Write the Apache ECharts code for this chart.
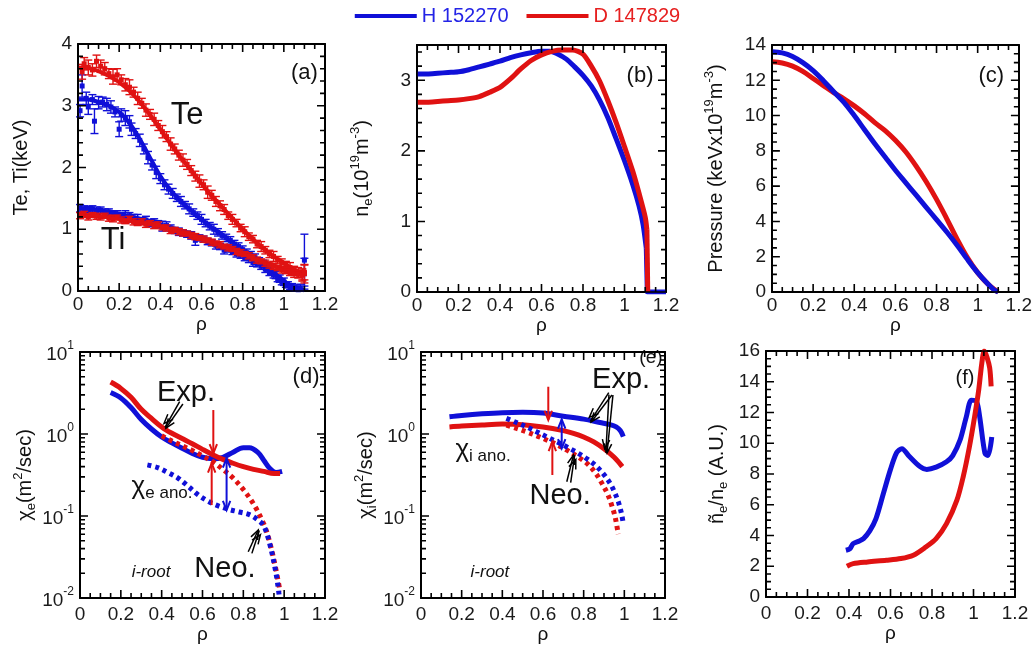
<!DOCTYPE html>
<html>
<head>
<meta charset="utf-8">
<title>H vs D profiles</title>
<script src="https://cdn.jsdelivr.net/npm/echarts@6.0.0/dist/echarts.min.js"></script>
<style>
  html, body { margin: 0; padding: 0; background: #fff; }
  #chart { width: 1035px; height: 646px; }
</style>
</head>
<body>
<div id="chart"></div>
<script>
// ===== series names =====
const NAME_H = 'H 152270';
const NAME_D = 'D 147829';

// ===== (a) temperature profiles: fits [rho, keV], measurements [rho, keV, error] =====
const teFitH = [[0,3.1],[0.05,3.1],[0.1,3.06],[0.15,3.0],[0.2,2.9],[0.25,2.72],[0.3,2.46],[0.35,2.16],[0.4,1.86],[0.45,1.63],[0.5,1.45],[0.55,1.3],[0.6,1.16],[0.65,1.03],[0.7,0.91],[0.75,0.79],[0.8,0.67],[0.85,0.55],[0.9,0.43],[0.95,0.3],[1.0,0.16],[1.05,0.06],[1.1,0.02]];
const teFitD = [[0,3.62],[0.05,3.61],[0.1,3.56],[0.15,3.48],[0.2,3.38],[0.25,3.24],[0.3,3.06],[0.35,2.85],[0.4,2.62],[0.45,2.38],[0.5,2.16],[0.55,1.95],[0.6,1.74],[0.65,1.54],[0.7,1.36],[0.75,1.18],[0.8,1.0],[0.85,0.84],[0.9,0.69],[0.95,0.56],[1.0,0.45],[1.05,0.35],[1.1,0.27]];
const tiFitH = [[0,1.34],[0.1,1.31],[0.2,1.25],[0.3,1.17],[0.4,1.08],[0.5,0.98],[0.6,0.87],[0.7,0.74],[0.8,0.6],[0.9,0.42],[0.95,0.3],[1.0,0.16],[1.05,0.06],[1.1,0.01]];
const tiFitD = [[0,1.23],[0.1,1.21],[0.2,1.17],[0.3,1.11],[0.4,1.05],[0.5,0.96],[0.6,0.86],[0.7,0.74],[0.8,0.62],[0.9,0.48],[1.0,0.36],[1.05,0.3],[1.1,0.26]];

const teMeasH = [[0.01,2.92,0.1],[0.02,3.32,0.18],[0.04,3.12,0.1],[0.05,2.98,0.12],[0.07,3.1,0.08],[0.08,2.75,0.2],[0.1,3.05,0.1],[0.12,3.06,0.08],[0.14,3.02,0.1],[0.16,2.98,0.1],[0.18,2.9,0.08],[0.2,2.62,0.12],[0.21,2.85,0.1],[0.23,2.8,0.12],[0.25,2.74,0.1],[0.26,2.62,0.1],[0.28,2.55,0.08],[0.3,2.44,0.1],[0.32,2.3,0.08],[0.34,2.16,0.1],[0.36,2.04,0.08],[0.38,1.92,0.1],[0.4,1.82,0.08],[0.42,1.72,0.08],[0.44,1.65,0.08],[0.46,1.58,0.08],[0.48,1.51,0.06],[0.5,1.45,0.08],[0.52,1.39,0.06],[0.54,1.33,0.08],[0.56,1.27,0.06],[0.58,1.22,0.06],[0.6,1.16,0.08],[0.62,1.1,0.06],[0.64,1.05,0.06],[0.66,1.0,0.08],[0.68,0.95,0.06],[0.7,0.9,0.06],[0.72,0.86,0.06],[0.74,0.82,0.06],[0.76,0.76,0.06],[0.78,0.72,0.06],[0.8,0.67,0.06],[0.82,0.62,0.06],[0.84,0.58,0.06],[0.86,0.54,0.06],[0.88,0.48,0.06],[0.9,0.44,0.06],[0.92,0.38,0.06],[0.94,0.32,0.06],[0.96,0.26,0.06],[0.98,0.2,0.06],[1.0,0.15,0.06],[1.02,0.1,0.05],[1.04,0.07,0.05],[1.06,0.05,0.05],[1.08,0.05,0.06],[1.1,0.5,0.42],[1.1,0.28,0.25]];
const teMeasD = [[0.02,3.55,0.12],[0.03,3.68,0.1],[0.05,3.62,0.12],[0.07,3.58,0.1],[0.09,3.72,0.1],[0.11,3.64,0.1],[0.13,3.6,0.1],[0.15,3.52,0.08],[0.17,3.47,0.12],[0.19,3.5,0.1],[0.21,3.42,0.08],[0.23,3.34,0.1],[0.25,3.3,0.12],[0.27,3.22,0.08],[0.29,3.12,0.1],[0.31,3.04,0.08],[0.33,2.93,0.1],[0.35,2.86,0.08],[0.37,2.78,0.1],[0.39,2.68,0.08],[0.41,2.58,0.1],[0.43,2.5,0.08],[0.45,2.38,0.1],[0.47,2.3,0.08],[0.49,2.2,0.08],[0.51,2.12,0.1],[0.53,2.05,0.08],[0.55,1.95,0.08],[0.57,1.86,0.08],[0.59,1.78,0.1],[0.61,1.72,0.08],[0.63,1.6,0.1],[0.65,1.55,0.08],[0.67,1.45,0.08],[0.69,1.38,0.08],[0.71,1.32,0.08],[0.73,1.22,0.06],[0.75,1.16,0.08],[0.77,1.1,0.06],[0.79,1.02,0.06],[0.81,0.96,0.08],[0.83,0.88,0.06],[0.85,0.84,0.06],[0.87,0.76,0.06],[0.89,0.72,0.08],[0.91,0.66,0.06],[0.93,0.6,0.06],[0.95,0.56,0.08],[0.97,0.5,0.06],[0.99,0.46,0.06],[1.01,0.42,0.06],[1.03,0.38,0.08],[1.05,0.34,0.06],[1.07,0.3,0.08],[1.09,0.26,0.1],[1.1,0.28,0.15]];
const tiMeasH = [[0.01,1.34,0.06],[0.03,1.33,0.05],[0.05,1.32,0.05],[0.07,1.33,0.05],[0.09,1.3,0.06],[0.11,1.31,0.05],[0.13,1.27,0.06],[0.15,1.28,0.05],[0.17,1.25,0.05],[0.19,1.24,0.06],[0.21,1.22,0.05],[0.23,1.2,0.1],[0.25,1.22,0.05],[0.27,1.18,0.06],[0.29,1.16,0.08],[0.31,1.14,0.05],[0.33,1.15,0.06],[0.35,1.1,0.06],[0.37,1.12,0.05],[0.39,1.08,0.06],[0.41,1.05,0.08],[0.43,1.06,0.06],[0.45,1.02,0.05],[0.47,0.98,0.05],[0.49,0.96,0.06],[0.51,0.94,0.05],[0.53,0.92,0.05],[0.55,0.9,0.06],[0.57,0.82,0.08],[0.59,0.86,0.05],[0.61,0.84,0.05],[0.63,0.8,0.05],[0.65,0.78,0.05],[0.67,0.74,0.06],[0.69,0.72,0.05],[0.71,0.66,0.06],[0.73,0.68,0.05],[0.75,0.64,0.05],[0.77,0.6,0.05],[0.79,0.58,0.05],[0.81,0.54,0.05],[0.83,0.52,0.06],[0.85,0.46,0.06],[0.87,0.44,0.05],[0.89,0.4,0.05],[0.91,0.36,0.06],[0.93,0.3,0.05],[0.95,0.26,0.05],[0.97,0.2,0.05],[0.99,0.15,0.05],[1.01,0.1,0.04],[1.03,0.06,0.04],[1.05,0.04,0.04],[1.07,0.02,0.03]];
const tiMeasD = [[0.01,1.22,0.05],[0.03,1.24,0.05],[0.05,1.2,0.05],[0.07,1.23,0.04],[0.09,1.21,0.05],[0.11,1.2,0.05],[0.13,1.22,0.04],[0.15,1.18,0.05],[0.17,1.17,0.05],[0.19,1.19,0.04],[0.21,1.15,0.05],[0.23,1.13,0.04],[0.25,1.16,0.05],[0.27,1.12,0.05],[0.29,1.1,0.04],[0.31,1.12,0.05],[0.33,1.08,0.05],[0.35,1.1,0.04],[0.37,1.06,0.05],[0.39,1.07,0.05],[0.41,1.03,0.04],[0.43,1.02,0.05],[0.45,0.98,0.05],[0.47,0.99,0.04],[0.49,0.96,0.05],[0.51,0.94,0.05],[0.53,0.93,0.04],[0.55,0.9,0.05],[0.57,0.88,0.05],[0.59,0.86,0.04],[0.61,0.84,0.05],[0.63,0.82,0.04],[0.65,0.79,0.05],[0.67,0.77,0.04],[0.69,0.75,0.05],[0.71,0.72,0.04],[0.73,0.7,0.05],[0.75,0.68,0.04],[0.77,0.64,0.05],[0.79,0.62,0.05],[0.81,0.6,0.04],[0.83,0.57,0.05],[0.85,0.54,0.05],[0.87,0.5,0.05],[0.89,0.48,0.04],[0.91,0.45,0.05],[0.93,0.42,0.05],[0.95,0.4,0.05],[0.97,0.37,0.04],[0.99,0.34,0.05],[1.01,0.33,0.05],[1.03,0.3,0.05],[1.05,0.28,0.06],[1.07,0.27,0.06],[1.09,0.26,0.08],[1.1,0.3,0.12]];

// ===== (b) electron density [rho, 1e19 m^-3]; profile and edge drop =====
const neH = [[0,3.09],[0.05,3.09],[0.1,3.1],[0.15,3.11],[0.2,3.12],[0.25,3.15],[0.3,3.19],[0.35,3.23],[0.4,3.27],[0.45,3.32],[0.5,3.36],[0.55,3.39],[0.6,3.41],[0.64,3.41],[0.68,3.37],[0.72,3.3],[0.76,3.19],[0.8,3.07],[0.84,2.92],[0.88,2.72],[0.92,2.47],[0.96,2.17],[1.0,1.86],[1.04,1.52],[1.07,1.22],[1.09,0.95],[1.105,0.62]];
const neEdgeH = [[1.105,0.62],[1.11,0],[1.2,0]];
const neD = [[0,2.69],[0.05,2.69],[0.1,2.7],[0.15,2.71],[0.2,2.72],[0.25,2.74],[0.3,2.77],[0.35,2.83],[0.4,2.9],[0.45,3.02],[0.5,3.16],[0.55,3.28],[0.6,3.36],[0.65,3.41],[0.7,3.43],[0.75,3.43],[0.8,3.37],[0.84,3.2],[0.88,2.99],[0.92,2.71],[0.96,2.4],[1.0,2.06],[1.04,1.71],[1.07,1.4],[1.1,1.06],[1.108,0.88]];
const neEdgeD = [[1.108,0.88],[1.112,0]];

// ===== (c) pressure [rho, keV x 1e19 m^-3] =====
const presH = [[0,13.62],[0.05,13.55],[0.1,13.35],[0.15,13.0],[0.2,12.55],[0.25,11.98],[0.3,11.35],[0.35,10.75],[0.4,10.0],[0.45,9.2],[0.5,8.4],[0.55,7.65],[0.6,6.9],[0.65,6.2],[0.7,5.5],[0.75,4.8],[0.8,4.1],[0.85,3.4],[0.9,2.65],[0.95,1.85],[1.0,1.1],[1.05,0.45],[1.08,0.12],[1.1,0]];
const presD = [[0,13.05],[0.05,12.98],[0.1,12.8],[0.15,12.5],[0.2,12.1],[0.25,11.7],[0.3,11.3],[0.35,10.95],[0.4,10.55],[0.45,10.1],[0.5,9.6],[0.55,9.15],[0.6,8.6],[0.65,7.95],[0.7,7.15],[0.75,6.25],[0.8,5.25],[0.85,4.15],[0.9,3.0],[0.95,1.95],[1.0,1.1],[1.05,0.45],[1.08,0.15],[1.1,0]];

// ===== (d) electron diffusivity [rho, m^2/s] =====
const chiEExpH = [[0.15,3.2],[0.2,2.75],[0.25,2.1],[0.3,1.5],[0.35,1.15],[0.4,0.92],[0.45,0.78],[0.5,0.67],[0.55,0.58],[0.6,0.52],[0.65,0.5],[0.7,0.52],[0.75,0.6],[0.8,0.68],[0.83,0.68],[0.87,0.6],[0.9,0.48],[0.93,0.38],[0.96,0.34],[0.99,0.35]];
const chiEExpD = [[0.15,4.3],[0.2,3.6],[0.25,2.8],[0.3,2.0],[0.35,1.55],[0.4,1.22],[0.45,1.02],[0.5,0.88],[0.55,0.76],[0.6,0.65],[0.65,0.56],[0.7,0.49],[0.75,0.44],[0.8,0.4],[0.85,0.37],[0.9,0.35],[0.95,0.33],[0.98,0.33]];
const chiENeoH = [[0.33,0.42],[0.38,0.39],[0.43,0.34],[0.48,0.29],[0.53,0.23],[0.58,0.18],[0.63,0.15],[0.68,0.132],[0.73,0.12],[0.78,0.112],[0.83,0.104],[0.87,0.09],[0.9,0.076],[0.93,0.045],[0.96,0.02],[0.975,0.011]];
const chiENeoD = [[0.4,0.95],[0.45,0.82],[0.5,0.72],[0.55,0.63],[0.6,0.54],[0.65,0.46],[0.7,0.37],[0.75,0.29],[0.8,0.21],[0.85,0.14],[0.9,0.08],[0.93,0.047],[0.96,0.022],[0.98,0.012]];

// ===== (e) ion diffusivity [rho, m^2/s] =====
const chiIExpH = [[0.14,1.62],[0.2,1.68],[0.3,1.76],[0.4,1.82],[0.5,1.84],[0.6,1.8],[0.7,1.65],[0.8,1.52],[0.88,1.38],[0.93,1.3],[0.96,1.22],[0.98,1.1],[0.995,0.93]];
const chiIExpD = [[0.14,1.22],[0.2,1.25],[0.3,1.29],[0.4,1.32],[0.5,1.3],[0.6,1.22],[0.7,1.1],[0.75,1.02],[0.8,0.92],[0.85,0.8],[0.9,0.66],[0.95,0.52],[0.99,0.4]];
const chiINeoH = [[0.42,1.55],[0.47,1.38],[0.52,1.22],[0.57,1.06],[0.62,0.92],[0.67,0.8],[0.72,0.69],[0.77,0.59],[0.82,0.49],[0.86,0.41],[0.9,0.32],[0.93,0.25],[0.95,0.2],[0.97,0.15],[0.985,0.11],[0.995,0.08]];
const chiINeoD = [[0.42,1.28],[0.47,1.17],[0.52,1.06],[0.57,0.95],[0.62,0.84],[0.67,0.74],[0.72,0.63],[0.77,0.53],[0.82,0.43],[0.86,0.33],[0.89,0.25],[0.92,0.18],[0.94,0.13],[0.955,0.097],[0.97,0.06]];

// ===== (f) density fluctuation level [rho, A.U.] =====
const dnH = [[0.385,3.04],[0.405,3.15],[0.42,3.47],[0.45,3.65],[0.47,3.8],[0.5,4.3],[0.53,5.1],[0.565,6.7],[0.6,8.3],[0.63,9.4],[0.655,9.65],[0.69,9.15],[0.74,8.5],[0.775,8.3],[0.82,8.45],[0.87,8.8],[0.9,9.2],[0.935,10.2],[0.965,11.7],[0.99,12.8],[1.015,12.7],[1.03,11.7],[1.055,9.35],[1.07,9.2],[1.088,10.4]];
const dnD = [[0.39,2.0],[0.42,2.17],[0.49,2.28],[0.58,2.39],[0.65,2.5],[0.71,2.72],[0.77,3.25],[0.82,3.8],[0.87,4.77],[0.92,6.3],[0.95,7.8],[0.98,9.75],[1.005,11.7],[1.025,13.45],[1.04,15.2],[1.052,16.0],[1.065,15.6],[1.078,14.9],[1.085,13.7]];

// ===== annotation arrows [x1, y1, x2(tip), y2(tip)] in data units =====
const arrowsRedD   = [[0.653,1.96,0.653,0.58],[0.645,0.136,0.645,0.44]];
const arrowsBlueD  = [[0.718,0.505,0.718,0.118]];
const arrowsBlackD = [[0.504,2.32,0.421,1.18],[0.824,0.0367,0.873,0.0675]];
const arrowsRedE   = [[0.626,3.77,0.626,1.48],[0.646,0.316,0.646,0.805]];
const arrowsBlueE  = [[0.692,1.51,0.692,0.668]];
const arrowsBlackE = [[0.939,2.99,0.837,1.40],[0.944,2.99,0.915,0.586],[0.717,0.262,0.75,0.555]];

// ===== axis ranges and tick spacing =====
const RHO_RANGE = [0, 1.2];
const RHO_TICKS = { major: 0.2, minor: 0.05 };
const LOG_TICKS = [0.01,0.02,0.03,0.04,0.05,0.06,0.07,0.08,0.09,0.1,0.2,0.3,0.4,0.5,0.6,0.7,0.8,0.9,1,2,3,4,5,6,7,8,9,10];
const LOG_DECADES = [0.01, 0.1, 1, 10];

// ===== drawing =====
const BLUE = '#1010d8';
const RED = '#e01212';
const INK = '#111';
const FONT = '"Liberation Sans", Arial, sans-serif';

const gridRects = [
  { left: 78,  top: 44,  width: 247, height: 247 },
  { left: 417, top: 45,  width: 249, height: 247 },
  { left: 772, top: 45,  width: 250, height: 247 },
  { left: 80,  top: 352, width: 245, height: 246 },
  { left: 421, top: 352, width: 244, height: 246 },
  { left: 766, top: 351, width: 249, height: 246 }
];
const grids = gridRects.map(g => Object.assign({ containLabel: false }, g));

const nameRich = {
  n: { fontSize: 20, fontFamily: FONT, color: INK, lineHeight: 26, verticalAlign: 'middle' },
  s: { fontSize: 13, fontFamily: FONT, color: INK, lineHeight: 13, verticalAlign: 'bottom' },
  p: { fontSize: 13, fontFamily: FONT, color: INK, lineHeight: 13, verticalAlign: 'top' }
};

const panels = [
  { y: { min: 0, max: 4, interval: 1, minor: 0.2 }, name: '{n|Te, Ti(keV)}', gap: 44, xGap: 20, xMargin: 4 },
  { y: { min: 0, max: 3.5, interval: 1, minor: 0.2, hideMax: true }, name: '{n|n}{s|e}{n|(10}{p|19}{n|m}{p|-3}{n|)}', gap: 42, xGap: 20, xMargin: 4 },
  { y: { min: 0, max: 14, interval: 2, minor: 0.5 }, name: '{n|Pressure (keVx10}{p|19}{n|m}{p|-3}{n|)}', gap: 43, xGap: 20, xMargin: 4 },
  { y: { type: 'log', min: 0.01, max: 10 }, name: '{n|χ}{s|e}{n|(m}{p|2}{n|/sec)}', gap: 32, xGap: 22, xMargin: 7 },
  { y: { type: 'log', min: 0.01, max: 10 }, name: '{n|χ}{s|i}{n|(m}{p|2}{n|/sec)}', gap: 33, xGap: 22, xMargin: 7 },
  { y: { min: 0, max: 16, interval: 2, minor: 0.5 }, name: '{n|ñ}{s|e}{n|/n}{s|e}{n| (A.U.)}', gap: 36, xGap: 22, xMargin: 7 }
];

function axisBase(gi, pos, o, showLabel, margin) {
  const ax = {
    type: o.type || 'value', gridIndex: gi, position: pos,
    min: o.min, max: o.max,
    axisLine: { show: true, onZero: false, lineStyle: { color: '#000', width: 2 } },
    axisTick: { show: false },
    splitLine: { show: false },
    axisLabel: { show: showLabel, color: '#1a1a1a', fontFamily: FONT, fontSize: 19, margin: margin }
  };
  if (ax.type === 'log') {
    ax.logBase = 10;
    ax.axisLabel.formatter = v => '{b|10}{e|' + Math.round(Math.log10(v)) + '}';
    ax.axisLabel.rich = {
      b: { fontSize: 19, fontFamily: FONT, color: '#1a1a1a', lineHeight: 24, verticalAlign: 'bottom' },
      e: { fontSize: 12, fontFamily: FONT, color: '#1a1a1a', lineHeight: 14, verticalAlign: 'top' }
    };
  } else {
    ax.interval = o.interval;
    if (o.hideMax) ax.axisLabel.showMaxLabel = false;
  }
  return ax;
}

const xAxes = [], yAxes = [];
panels.forEach((p, gi) => {
  const xo = { min: RHO_RANGE[0], max: RHO_RANGE[1], interval: RHO_TICKS.major };
  const xb = axisBase(gi, 'bottom', xo, true, p.xMargin);
  xb.name = 'ρ'; xb.nameLocation = 'middle'; xb.nameGap = p.xGap;
  xb.nameTextStyle = { fontSize: 19, fontFamily: FONT, color: INK, verticalAlign: 'top' };
  xAxes.push(xb, axisBase(gi, 'top', xo, false, 4));
  const yl = axisBase(gi, 'left', p.y, true, 6);
  yl.name = p.name; yl.nameLocation = 'middle'; yl.nameGap = p.gap; yl.nameRotate = 90;
  yl.nameTextStyle = { rich: nameRich, fontSize: 20, fontFamily: FONT, color: INK };
  yAxes.push(yl, axisBase(gi, 'right', p.y, false, 6));
});

const series = [];
function on(gi) { return { xAxisIndex: 2 * gi, yAxisIndex: 2 * gi }; }

// ----- inward tick marks: one comb path running around each panel frame -----
function ladder(lo, hi, step) {
  const out = [];
  const n = Math.round((hi - lo) / step);
  for (let i = 0; i <= n; i++) out.push(+(lo + i * step).toFixed(6));
  return out;
}
function isOneOf(v, list) { return list.some(e => Math.abs(e - v) < 1e-6); }

function frameComb(gi) {
  const g = gridRects[gi], yo = panels[gi].y, isLog = yo.type === 'log';
  const x0 = RHO_RANGE[0], x1 = RHO_RANGE[1];
  // tick lengths in pixels converted to data units of this panel
  const dx = L => L / g.width * (x1 - x0);
  const logSpan = isLog ? Math.log10(yo.max / yo.min) : 0;
  const up = (y, L) => isLog ? y * Math.pow(10, L / g.height * logSpan) : y + L / g.height * (yo.max - yo.min);
  const down = (y, L) => isLog ? y / Math.pow(10, L / g.height * logSpan) : y - L / g.height * (yo.max - yo.min);

  const xMaj = ladder(x0, x1, RHO_TICKS.major);
  const xs = ladder(x0, x1, RHO_TICKS.minor).map(v => [v, isOneOf(v, xMaj) ? 8 : 5]);
  let ys;
  if (isLog) {
    ys = LOG_TICKS.map(v => [v, isOneOf(v, LOG_DECADES) ? 8 : 5]);
  } else {
    const yMaj = ladder(yo.min, Math.floor(yo.max / yo.interval + 1e-6) * yo.interval, yo.interval);
    ys = ladder(yo.min, Math.floor(yo.max / yo.minor + 1e-6) * yo.minor, yo.minor).map(v => [v, isOneOf(v, yMaj) ? 8 : 5]);
    if (ys[ys.length - 1][0] < yo.max) ys.push([yo.max, 0]);
  }
  const pts = [];
  xs.forEach(([v, L]) => pts.push([v, yo.min], [v, up(yo.min, L)], [v, yo.min]));            // bottom
  ys.forEach(([v, L]) => pts.push([x1, v], [x1 - dx(L), v], [x1, v]));                       // right
  xs.slice().reverse().forEach(([v, L]) => pts.push([v, yo.max], [v, down(yo.max, L)], [v, yo.max])); // top
  ys.slice().reverse().forEach(([v, L]) => pts.push([x0, v], [x0 + dx(L), v], [x0, v]));     // left
  return pts;
}
panels.forEach((p, gi) => {
  series.push(Object.assign({
    type: 'line', name: 'frame ticks', data: frameComb(gi), symbol: 'none', showSymbol: false,
    smooth: false, clip: false, z: 9, silent: true,
    lineStyle: { color: '#000', width: 1.6, join: 'bevel', cap: 'butt' },
    itemStyle: { color: '#000' }
  }, on(gi)));
});

function addLine(gi, name, color, data, opt) {
  opt = opt || {};
  series.push(Object.assign({
    type: 'line', name: name, data: data, symbol: 'none', showSymbol: false,
    smooth: opt.smooth === undefined ? 0.35 : opt.smooth,
    clip: true, z: opt.z || 3, silent: true,
    lineStyle: { color: color, width: opt.width || 5, type: opt.dotted ? [4, 4] : 'solid', cap: 'butt', join: 'round' },
    itemStyle: { color: color }
  }, on(gi)));
}

function addMeas(gi, name, color, data) {
  series.push(Object.assign({
    type: 'custom', name: name, data: data, z: 4, silent: true,
    coordinateSystem: 'cartesian2d', encode: { x: 0, y: 1 },
    itemStyle: { color: color },
    renderItem: function (params, api) {
      const x = api.value(0), y = api.value(1), e = api.value(2);
      const p = api.coord([x, y]);
      const hi = api.coord([x, y + e]);
      const lo = api.coord([x, Math.max(y - e, 0)]);
      const w = 4, ls = { stroke: color, lineWidth: 1.4 };
      return { type: 'group', children: [
        { type: 'line', shape: { x1: p[0], y1: hi[1], x2: p[0], y2: lo[1] }, style: ls },
        { type: 'line', shape: { x1: p[0] - w, y1: hi[1], x2: p[0] + w, y2: hi[1] }, style: ls },
        { type: 'line', shape: { x1: p[0] - w, y1: lo[1], x2: p[0] + w, y2: lo[1] }, style: ls },
        { type: 'rect', shape: { x: p[0] - 2.5, y: p[1] - 2.5, width: 5, height: 5 }, style: { fill: color } }
      ] };
    }
  }, on(gi)));
}

function headAt(tip, from, color, lw) {
  const ang = Math.atan2(tip[1] - from[1], tip[0] - from[0]);
  const L = 10, sp = 0.38;
  return { type: 'polyline', shape: { points: [
    [tip[0] - L * Math.cos(ang - sp), tip[1] - L * Math.sin(ang - sp)], tip,
    [tip[0] - L * Math.cos(ang + sp), tip[1] - L * Math.sin(ang + sp)] ] },
    style: { stroke: color, lineWidth: lw, fill: 'none' } };
}

function addArrows(gi, data, color, kind) {
  series.push(Object.assign({
    type: 'custom', name: 'arrows', data: data, z: 6, silent: true,
    coordinateSystem: 'cartesian2d', encode: { x: [0, 2], y: [1, 3] },
    renderItem: function (params, api) {
      const a = api.coord([api.value(0), api.value(1)]);
      const b = api.coord([api.value(2), api.value(3)]);
      const lw = kind === 'black' ? 1.5 : 2;
      const kids = [{ type: 'line', shape: { x1: a[0], y1: a[1], x2: b[0], y2: b[1] }, style: { stroke: color, lineWidth: lw } },
        headAt(b, a, color, lw)];
      if (kind === 'double') kids.push(headAt(a, b, color, lw));
      if (kind === 'black') {
        // second shaft alongside the first
        const ang = Math.atan2(b[1] - a[1], b[0] - a[0]);
        const ox = -Math.sin(ang) * 4, oy = Math.cos(ang) * 4;
        kids.push({ type: 'line', shape: { x1: a[0] + ox, y1: a[1] + oy, x2: b[0] + ox * 0.3, y2: b[1] + oy * 0.3 }, style: { stroke: color, lineWidth: lw } });
        kids.push(headAt([b[0] + ox * 0.6, b[1] + oy * 0.6 - 4 * Math.sin(ang)], a, color, lw));
      }
      return { type: 'group', children: kids };
    }
  }, on(gi)));
}

function addNotes(gi, notes) {
  series.push(Object.assign({
    type: 'custom', name: 'notes', data: notes.map(n => [n.at[0], n.at[1]]), z: 7, silent: true,
    coordinateSystem: 'cartesian2d', encode: { x: 0, y: 1 },
    renderItem: function (params, api) {
      const n = notes[params.dataIndex];
      const p = api.coord([api.value(0), api.value(1)]);
      return { type: 'text', x: p[0], y: p[1], style: Object.assign({
        text: n.text, fill: n.color || INK, fontFamily: FONT, fontSize: n.size,
        fontStyle: n.italic ? 'italic' : 'normal', align: 'center', verticalAlign: 'middle'
      }, n.rich ? { rich: n.rich } : {}) };
    }
  }, on(gi)));
}

const chiRich = {
  c: { fontSize: 26, fontFamily: FONT, color: '#222', lineHeight: 30, verticalAlign: 'middle' },
  s: { fontSize: 17, fontFamily: FONT, color: '#222', lineHeight: 17, verticalAlign: 'bottom' }
};

// (a)
addLine(0, NAME_H, BLUE, teFitH, { width: 4 });
addLine(0, NAME_H, BLUE, tiFitH, { width: 4 });
addLine(0, NAME_D, RED, teFitD, { width: 4 });
addLine(0, NAME_D, RED, tiFitD, { width: 4 });
addMeas(0, NAME_H, BLUE, teMeasH);
addMeas(0, NAME_H, BLUE, tiMeasH);
addMeas(0, NAME_D, RED, teMeasD);
addMeas(0, NAME_D, RED, tiMeasD);
addNotes(0, [
  { at: [1.1, 3.53], text: '(a)', size: 22 },
  { at: [0.53, 2.84], text: 'Te', size: 31 },
  { at: [0.17, 0.82], text: 'Ti', size: 31 }
]);
// (b)
addLine(1, NAME_H, BLUE, neH, { smooth: 0.25 });
addLine(1, NAME_H, BLUE, neEdgeH, { smooth: false });
addLine(1, NAME_D, RED, neD, { smooth: 0.25 });
addLine(1, NAME_D, RED, neEdgeD, { smooth: false });
addNotes(1, [{ at: [1.075, 3.06], text: '(b)', size: 22 }]);
// (c)
addLine(2, NAME_D, RED, presD);
addLine(2, NAME_H, BLUE, presH);
addNotes(2, [{ at: [1.066, 12.24], text: '(c)', size: 22 }]);
// (d)
addLine(3, NAME_H, BLUE, chiEExpH);
addLine(3, NAME_D, RED, chiEExpD);
addLine(3, NAME_D, RED, chiENeoD, { dotted: true });
addLine(3, NAME_H, BLUE, chiENeoH, { dotted: true });
addArrows(3, arrowsRedD, RED, 'single');
addArrows(3, arrowsBlueD, BLUE, 'double');
addArrows(3, arrowsBlackD, '#000', 'black');
addNotes(3, [
  { at: [1.107, 4.96], text: '(d)', size: 22 },
  { at: [0.519, 3.16], text: 'Exp.', size: 29 },
  { at: [0.71, 0.0226], text: 'Neo.', size: 29 },
  { at: [0.348, 0.0207], text: 'i-root', size: 17, italic: true },
  { at: [0.402, 0.226], text: '{c|χ}{s|e ano.}', size: 20, rich: chiRich }
]);
// (e)
addLine(4, NAME_H, BLUE, chiIExpH);
addLine(4, NAME_D, RED, chiIExpD);
addLine(4, NAME_D, RED, chiINeoD, { dotted: true });
addLine(4, NAME_H, BLUE, chiINeoH, { dotted: true });
addArrows(4, arrowsRedE, RED, 'single');
addArrows(4, arrowsBlueE, BLUE, 'double');
addArrows(4, arrowsBlackE, '#000', 'black');
addNotes(4, [
  { at: [1.131, 8.45], text: '(e)', size: 19 },
  { at: [0.984, 4.56], text: 'Exp.', size: 29 },
  { at: [0.684, 0.175], text: 'Neo.', size: 29 },
  { at: [0.339, 0.0207], text: 'i-root', size: 17, italic: true },
  { at: [0.305, 0.638], text: '{c|χ}{s|i ano.}', size: 20, rich: chiRich }
]);
// (f)
addLine(5, NAME_H, BLUE, dnH, { smooth: 0.3 });
addLine(5, NAME_D, RED, dnD, { smooth: 0.3 });
addNotes(5, [{ at: [0.959, 14.24], text: '(f)', size: 20 }]);

const chart = echarts.init(document.getElementById('chart'), null, { renderer: 'canvas' });
chart.setOption({
  animation: false,
  backgroundColor: '#fff',
  textStyle: { fontFamily: FONT },
  legend: {
    top: 1, left: 'center', icon: 'rect', itemWidth: 62, itemHeight: 4, itemGap: 18,
    selectedMode: false,
    textStyle: { fontSize: 20, fontFamily: FONT },
    data: [
      { name: NAME_H, itemStyle: { color: BLUE }, textStyle: { color: '#2424e6' } },
      { name: NAME_D, itemStyle: { color: RED }, textStyle: { color: '#e62020' } }
    ]
  },
  grid: grids,
  xAxis: xAxes,
  yAxis: yAxes,
  series: series
});
</script>
</body>
</html>
